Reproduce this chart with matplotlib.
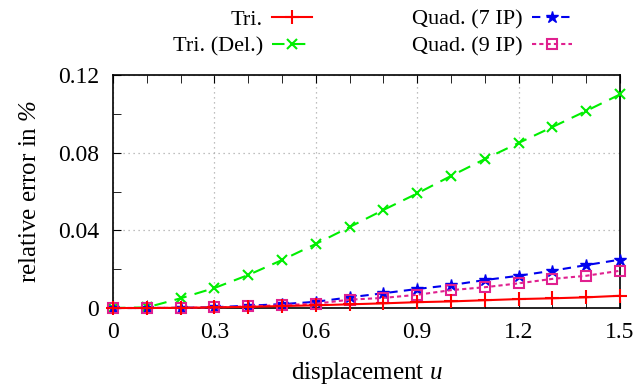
import numpy as np
import matplotlib
matplotlib.use("Agg")
import matplotlib.pyplot as plt
from matplotlib.ticker import MultipleLocator, FixedLocator

plt.rcParams['font.family'] = ['Liberation Serif', 'DejaVu Serif']
plt.rcParams['mathtext.fontset'] = 'custom'
plt.rcParams['mathtext.it'] = 'Liberation Serif:italic'
plt.rcParams['mathtext.rm'] = 'Liberation Serif:italic'

# datos
u = [0.0, 0.1, 0.2, 0.3, 0.4, 0.5, 0.6, 0.7, 0.8, 0.9, 1.0, 1.1, 1.2, 1.3, 1.4, 1.5]
tri = [0.0, 0.0, 0.0001, 0.0003, 0.0006, 0.001, 0.0014, 0.0019, 0.0024, 0.003,
       0.0034, 0.004, 0.0046, 0.005, 0.0055, 0.0063]
tri_del = [0.0, 0.0003, 0.005, 0.0103, 0.017, 0.0247, 0.033, 0.0417, 0.0505, 0.059,
           0.068, 0.0767, 0.085, 0.0932, 0.1015, 0.110]
quad7 = [0.0, 0.0, 0.0001, 0.0004, 0.0012, 0.002, 0.0032, 0.0055, 0.0076, 0.0098,
         0.0118, 0.0144, 0.0166, 0.0192, 0.0221, 0.0249]
quad9 = [0.0, 0.0, 0.0001, 0.0003, 0.0008, 0.0015, 0.0022, 0.0043, 0.0052, 0.0068,
         0.0092, 0.0107, 0.0127, 0.015, 0.0166, 0.0192]

xticks = [0, 0.3, 0.6, 0.9, 1.2, 1.5]
xlabels = ["0", "0.3", "0.6", "0.9", "1.2", "1.5"]
yticks = [0, 0.04, 0.08, 0.12]
ylabels = ["0", "0.04", "0.08", "0.12"]

fig = plt.figure(figsize=(6.44, 3.89), dpi=100)
ax = fig.add_axes([0.1755, 0.2082, 0.7872, 0.599])

ax.plot(u, tri, color='red', lw=1.5, marker='+', ms=10, mew=1.5,
        label='Tri.', clip_on=False, zorder=5)
ax.plot(u, tri_del, color='#00ee00', lw=1.5, ls=(0, (6, 4)), marker='x', ms=7, mew=1.5,
        label='Tri. (Del.)', clip_on=False, zorder=3)
ax.plot(u, quad7, color='#0000ee', lw=1.5, ls=(0, (4, 3)), marker='*', ms=9, mew=1.0,
        label='Quad. (7 IP)', clip_on=False, zorder=4)
ax.plot(u, quad9, color='#e0208f', lw=1.5, ls=(0, (2, 1.5)), marker='s', ms=7, mew=1.5,
        mfc='none', label='Quad. (9 IP)', clip_on=False, zorder=4)

ax.set_xlim(0, 1.5)
ax.set_ylim(0, 0.12)
ax.xaxis.set_major_locator(FixedLocator(xticks))
ax.set_xticklabels(xlabels)
ax.xaxis.set_minor_locator(MultipleLocator(0.1))
ax.yaxis.set_major_locator(FixedLocator(yticks))
ax.set_yticklabels(ylabels)
ax.yaxis.set_minor_locator(MultipleLocator(0.02))
ax.tick_params(which='both', direction='in', top=True, right=False, labelsize=17, pad=10)
ax.tick_params(which='major', length=6)
ax.tick_params(which='minor', length=6)
ax.grid(True, which='major', ls=(0, (1, 3)), color='#aaaaaa', lw=0.9)
for s in ax.spines.values():
    s.set_linewidth(1.2)

ax.set_xlabel('displacement $u$', fontsize=18, labelpad=12)
ax.set_ylabel('relative error in $\\%$', fontsize=18, labelpad=12)

fig.legend(loc='upper center', bbox_to_anchor=(0.578, 1.028), ncol=2, frameon=False,
           markerfirst=False, fontsize=16, handlelength=1.8, columnspacing=4.5,
           labelspacing=0.3, handletextpad=0.4)

fig.savefig('out.png', dpi=100)
